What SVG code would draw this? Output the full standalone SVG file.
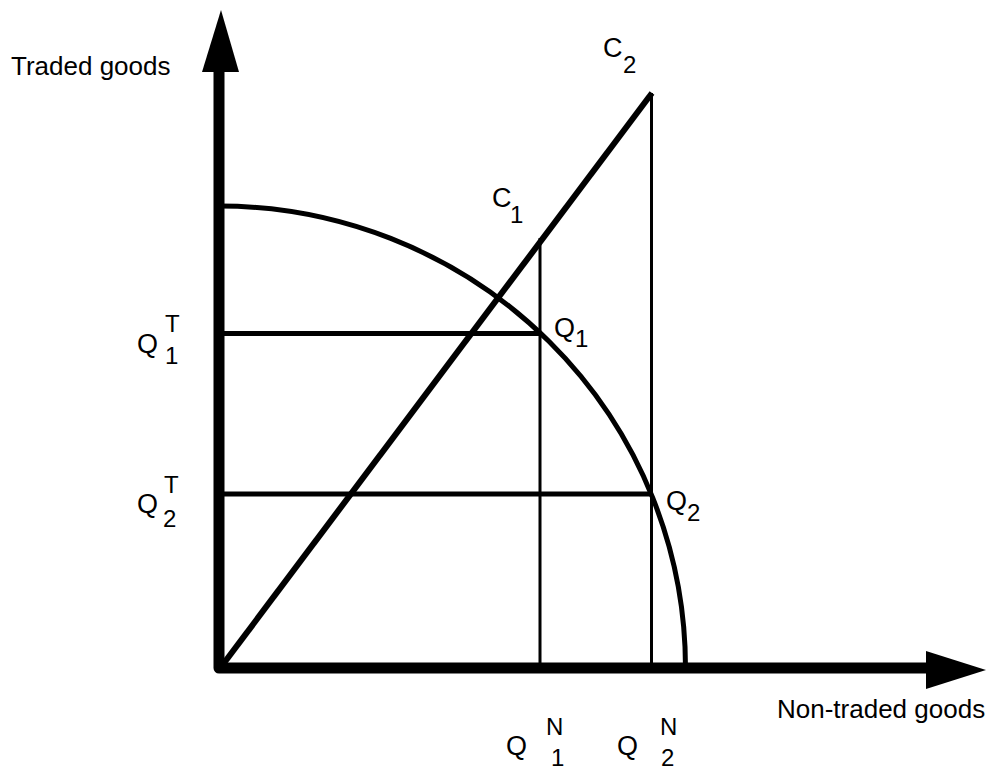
<svg xmlns="http://www.w3.org/2000/svg" width="996" height="770" viewBox="0 0 996 770">
<style>
text{font-family:"Liberation Sans",Arial,sans-serif;fill:#000}
.t{font-size:26px}
.l{font-size:27px}
.s{font-size:24px}
.ax{stroke:#000;stroke-width:11;fill:none;stroke-linejoin:round}
.thick{stroke:#000;stroke-width:5;fill:none}
.thin{stroke:#000;stroke-width:3;fill:none}
</style>
<rect width="996" height="770" fill="#fff"/>
<g id="axes">
<path class="ax" d="M219 70 L219 668 L928 668"/>
<polygon points="221,10 202,72 239,72" fill="#000"/>
<polygon points="986,670 926,651 926,689" fill="#000"/>
</g>
<g id="curve">
<path class="thick" d="M219 206 A466.5 462 0 0 1 685.5 668"/>
</g>
<g id="connectors">
<line class="thick" x1="224" y1="663" x2="652" y2="93" style="stroke-width:6"/>
<line class="thin" x1="651.5" y1="93" x2="651.5" y2="666"/>
<line class="thin" x1="540" y1="238" x2="540" y2="666"/>
<line class="thick" x1="222" y1="333.5" x2="540" y2="333.5"/>
<line class="thick" x1="222" y1="494" x2="651" y2="494"/>
</g>
<g id="labels">
<text class="t" x="11" y="75">Traded goods</text>
<text class="t" x="777" y="718">Non-traded goods</text>
<text class="l" x="603" y="57">C</text><text class="s" x="623" y="73">2</text>
<text class="l" x="492" y="207">C</text><text class="s" x="510" y="223">1</text>
<text class="l" x="554" y="337">Q</text><text class="s" x="575" y="347">1</text>
<text class="l" x="666" y="510">Q</text><text class="s" x="687" y="521">2</text>
<text class="l" x="137" y="353">Q</text><text class="s" x="165" y="332">T</text><text class="s" x="165" y="364">1</text>
<text class="l" x="137" y="513">Q</text><text class="s" x="164" y="493">T</text><text class="s" x="163" y="527">2</text>
<text class="l" x="506" y="755">Q</text><text class="s" x="546" y="735">N</text><text class="s" x="551" y="766">1</text>
<text class="l" x="617" y="755">Q</text><text class="s" x="660" y="735">N</text><text class="s" x="661" y="766">2</text>
</g>
</svg>
